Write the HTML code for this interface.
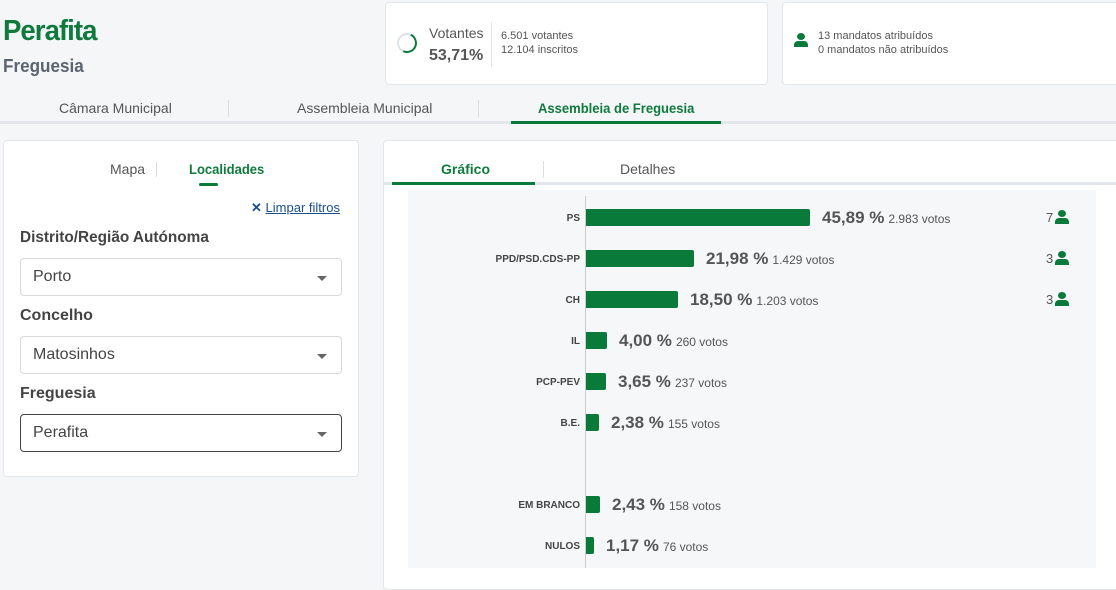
<!DOCTYPE html>
<html><head><meta charset="utf-8"><style>
*{box-sizing:border-box;margin:0;padding:0}
body{width:1116px;height:586px;background:#f4f6f8;font-family:"Liberation Sans",sans-serif;position:relative;overflow:hidden;color:#444}
.a{position:absolute;white-space:nowrap}
.card{position:absolute;background:#fff;border:1px solid #e3e6ea;border-radius:4px}
.g{color:#0f7a3c}
.sel{position:absolute;left:20px;width:322px;height:38px;border:1px solid #d6d9dd;border-radius:4px;background:#fff;font-size:16px;color:#444;padding:9px 12px}
.sel:after{content:"";position:absolute;right:14px;top:17px;border:5px solid transparent;border-top:5px solid #666}
.lbl{position:absolute;left:20px;font-size:16px;font-weight:bold;color:#444}
.bar{position:absolute;left:586px;height:17px;background:#0a7a3b;border-radius:0 2px 2px 0}
.pn{position:absolute;right:536px;font-size:10px;font-weight:bold;color:#444;text-align:right}
.pc{position:absolute;font-size:17px;font-weight:bold;color:#555}
.pc small{font-size:12px;font-weight:normal;color:#555;margin-left:4px}
.mand{position:absolute;left:1046px;font-size:13px;color:#555}
.ic{display:inline-block;position:relative;width:14px;height:14px;vertical-align:-2px;margin-left:2px}
.ic:before{content:"";position:absolute;left:3px;top:0;width:8px;height:7px;border-radius:50%;background:#0a7a3b}
.ic:after{content:"";position:absolute;left:0;top:8px;width:14px;height:6px;border-radius:4px 4px 0 0;background:#0a7a3b}
</style></head><body>
<div class="a g" style="left:3px;top:15px;font-size:29px;font-weight:bold;letter-spacing:-1px;transform:scaleX(0.95);transform-origin:left">Perafita</div>
<div class="a" style="left:3px;top:56px;font-size:18px;font-weight:bold;color:#5b6470;transform:scaleX(0.95);transform-origin:left">Freguesia</div>
<div class="card" style="left:385px;top:2px;width:383px;height:83px"></div>
<div class="a" style="left:397px;top:33px;width:20px;height:20px;border-radius:50%;border:2px solid #dde2e6;border-right-color:#0a7a3b;border-bottom-color:#0a7a3b;transform:rotate(-20deg)"></div>
<div class="a" style="left:429px;top:25px;font-size:14px;color:#555">Votantes</div>
<div class="a" style="left:429px;top:47px;font-size:16px;font-weight:bold;color:#555">53,71%</div>
<div class="a" style="left:491px;top:22px;width:1px;height:45px;background:#e3e6ea"></div>
<div class="a" style="left:501px;top:29px;font-size:11px;color:#555;line-height:14px">6.501 votantes<br>12.104 inscritos</div>
<div class="card" style="left:782px;top:2px;width:340px;height:83px"></div>
<div class="a" style="left:792px;top:33px"><span class="ic" style="width:18px;height:20px"></span></div>
<div class="a" style="left:818px;top:29px;font-size:11px;color:#555;line-height:14px">13 mandatos atribuídos<br>0 mandatos não atribuídos</div>
<div class="a" style="left:0;top:121px;width:1116px;height:3px;background:#e3e6ea"></div>
<div class="a" style="left:59px;top:100px;font-size:14px;color:#555">Câmara Municipal</div>
<div class="a" style="left:228px;top:100px;width:1px;height:17px;background:#ddd"></div>
<div class="a" style="left:297px;top:100px;font-size:14px;color:#555">Assembleia Municipal</div>
<div class="a" style="left:478px;top:100px;width:1px;height:17px;background:#ddd"></div>
<div class="a g" style="left:538px;top:100px;font-size:14px;font-weight:bold;transform:scaleX(0.93);transform-origin:left">Assembleia de Freguesia</div>
<div class="a" style="left:511px;top:121px;width:210px;height:3px;background:#0a7a3b"></div>

<div class="card" style="left:3px;top:140px;width:356px;height:337px"></div>
<div class="a" style="left:110px;top:161px;font-size:14px;color:#555">Mapa</div>
<div class="a" style="left:156px;top:162px;width:1px;height:15px;background:#ddd"></div>
<div class="a g" style="left:189px;top:161px;font-size:14px;font-weight:bold;transform:scaleX(0.93);transform-origin:left">Localidades</div>
<div class="a" style="left:199px;top:183px;width:19px;height:3px;background:#0a7a3b;border-radius:2px"></div>
<div class="a" style="left:251px;top:200px;font-size:13px;color:#1a4f8a"><b style="color:#1a4f8a">✕</b> <u>Limpar filtros</u></div>
<div class="lbl" style="top:229px;transform:scaleX(0.96);transform-origin:left">Distrito/Região Autónoma</div>
<div class="sel" style="top:258px">Porto</div>
<div class="lbl" style="top:307px">Concelho</div>
<div class="sel" style="top:336px">Matosinhos</div>
<div class="lbl" style="top:385px">Freguesia</div>
<div class="sel" style="top:414px;border-color:#444">Perafita</div>

<div class="card" style="left:383px;top:140px;width:740px;height:450px"></div>
<div class="a" style="left:384px;top:182px;width:732px;height:3px;background:#e3e6ea"></div>
<div class="a g" style="left:441px;top:161px;font-size:14px;font-weight:bold">Gráfico</div>
<div class="a" style="left:392px;top:182px;width:143px;height:3px;background:#0a7a3b"></div>
<div class="a" style="left:543px;top:161px;width:1px;height:17px;background:#ddd"></div>
<div class="a" style="left:620px;top:161px;font-size:14px;color:#555">Detalhes</div>
<div class="a" style="left:408px;top:190px;width:688px;height:378px;background:#f6f7f9"></div>
<div class="a" style="left:585px;top:196px;width:1px;height:372px;background:#ccc"></div>

<div class="pn" style="top:213px">PS</div><div class="bar" style="top:209px;width:224px"></div>
<div class="pc" style="left:822px;top:208px">45,89 %<small>2.983 votos</small></div>
<div class="mand" style="top:210px">7<span class="ic"></span></div>

<div class="pn" style="top:254px">PPD/PSD.CDS-PP</div><div class="bar" style="top:250px;width:108px"></div>
<div class="pc" style="left:706px;top:249px">21,98 %<small>1.429 votos</small></div>
<div class="mand" style="top:251px">3<span class="ic"></span></div>

<div class="pn" style="top:295px">CH</div><div class="bar" style="top:291px;width:92px"></div>
<div class="pc" style="left:690px;top:290px">18,50 %<small>1.203 votos</small></div>
<div class="mand" style="top:292px">3<span class="ic"></span></div>

<div class="pn" style="top:336px">IL</div><div class="bar" style="top:332px;width:21px"></div>
<div class="pc" style="left:619px;top:331px">4,00 %<small>260 votos</small></div>

<div class="pn" style="top:377px">PCP-PEV</div><div class="bar" style="top:373px;width:20px"></div>
<div class="pc" style="left:618px;top:372px">3,65 %<small>237 votos</small></div>

<div class="pn" style="top:418px">B.E.</div><div class="bar" style="top:414px;width:13px"></div>
<div class="pc" style="left:611px;top:413px">2,38 %<small>155 votos</small></div>

<div class="pn" style="top:500px">EM BRANCO</div><div class="bar" style="top:496px;width:14px"></div>
<div class="pc" style="left:612px;top:495px">2,43 %<small>158 votos</small></div>

<div class="pn" style="top:541px">NULOS</div><div class="bar" style="top:537px;width:8px"></div>
<div class="pc" style="left:606px;top:536px">1,17 %<small>76 votos</small></div>
</body></html>
